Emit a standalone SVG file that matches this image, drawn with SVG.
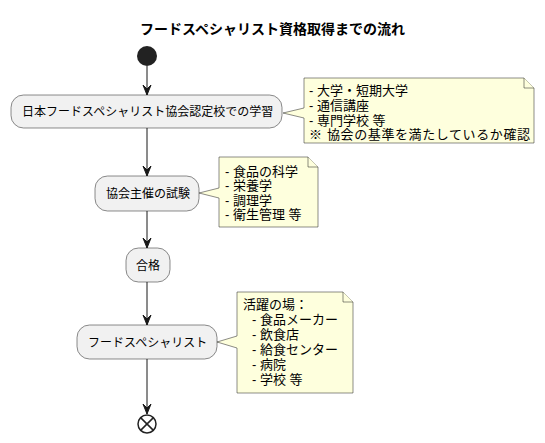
<svg xmlns="http://www.w3.org/2000/svg" width="545" height="443" viewBox="0 0 545 443">
<defs>
<style>
.t{font-family:"Liberation Sans","Noto Sans CJK JP",sans-serif;fill:#000}
.title{font-size:14px;font-weight:bold}
.bt{font-size:12px}
.nt{font-size:13px}
.box{fill:#F1F1F1;stroke:#181818;stroke-width:0.5}
.note{fill:#FEFFDD;stroke:#181818;stroke-width:0.5}
.edge{stroke:#181818;stroke-width:1;fill:none}
.ah{fill:#181818;stroke:#181818;stroke-width:1}
</style>
</defs>
<rect width="545" height="443" fill="#FFFFFF"/>
<text class="t title" x="272.5" y="34" text-anchor="middle">フードスペシャリスト資格取得までの流れ</text>

<g id="connectors">
<line class="edge" x1="147" y1="66" x2="147" y2="95"/>
<polygon class="ah" points="147,95 143,85 147,89 151,85"/>
<line class="edge" x1="147" y1="128" x2="147" y2="176"/>
<polygon class="ah" points="147,176 143,166 147,170 151,166"/>
<line class="edge" x1="147" y1="211" x2="147" y2="248"/>
<polygon class="ah" points="147,248 143,238 147,242 151,238"/>
<line class="edge" x1="147" y1="282" x2="147" y2="325"/>
<polygon class="ah" points="147,325 143,315 147,319 151,315"/>
<line class="edge" x1="147" y1="359" x2="147" y2="414"/>
<polygon class="ah" points="147,414 143,404 147,408 151,404"/>
</g>

<g id="start">
<circle cx="147" cy="56" r="10" fill="#222222"/>
</g>

<g id="n1">
<rect class="box" x="11" y="95" width="271" height="33" rx="12.5"/>
<text class="t bt" x="22" y="116">日本フードスペシャリスト協会認定校での学習</text>
</g>

<g id="note1">
<path class="note" d="M304,78 L524,78 L534,88 L534,143 L304,143 L304,118 L283,113 L304,108 Z"/>
<path class="note" d="M524,78 L524,88 L534,88"/>
<text class="t nt" x="309" y="95">- 大学・短期大学</text>
<text class="t nt" x="309" y="110">- 通信講座</text>
<text class="t nt" x="309" y="125">- 専門学校 等</text>
<text class="t nt" x="309" y="139">※<tspan x="327" letter-spacing="0.6">協会の基準を満たしているか確認</tspan></text>
</g>

<g id="n2">
<rect class="box" x="95" y="176" width="104" height="35" rx="12.5"/>
<text class="t bt" x="106" y="197.5">協会主催の試験</text>
</g>

<g id="note2">
<path class="note" d="M219,157 L308,157 L318,167 L318,227 L219,227 L219,198 L199,193 L219,188 Z"/>
<path class="note" d="M308,157 L308,167 L318,167"/>
<text class="t nt" x="225" y="176">- 食品の科学</text>
<text class="t nt" x="225" y="190">- 栄養学</text>
<text class="t nt" x="225" y="204.5">- 調理学</text>
<text class="t nt" x="225" y="219">- 衛生管理 等</text>
</g>

<g id="n3">
<rect class="box" x="126" y="248" width="44" height="34" rx="12.5"/>
<text class="t bt" x="148" y="269.5" text-anchor="middle">合格</text>
</g>

<g id="n4">
<rect class="box" x="77" y="325" width="140" height="34" rx="12.5"/>
<text class="t bt" x="88" y="346.5">フードスペシャリスト</text>
</g>

<g id="note3">
<path class="note" d="M237,292 L343,292 L353,302 L353,393 L237,393 L237,348 L217,342 L237,336 Z"/>
<path class="note" d="M343,292 L343,302 L353,302"/>
<text class="t nt" x="243" y="309">活躍の場：</text>
<text class="t nt" x="252" y="324">- 食品メーカー</text>
<text class="t nt" x="252" y="339">- 飲食店</text>
<text class="t nt" x="252" y="354">- 給食センター</text>
<text class="t nt" x="252" y="369">- 病院</text>
<text class="t nt" x="252" y="384">- 学校 等</text>
</g>

<g id="end">
<circle cx="147" cy="424" r="9" fill="none" stroke="#222222" stroke-width="1.5"/>
<line x1="140.6" y1="417.6" x2="153.4" y2="430.4" stroke="#222222" stroke-width="1.5"/>
<line x1="153.4" y1="417.6" x2="140.6" y2="430.4" stroke="#222222" stroke-width="1.5"/>
</g>
</svg>
